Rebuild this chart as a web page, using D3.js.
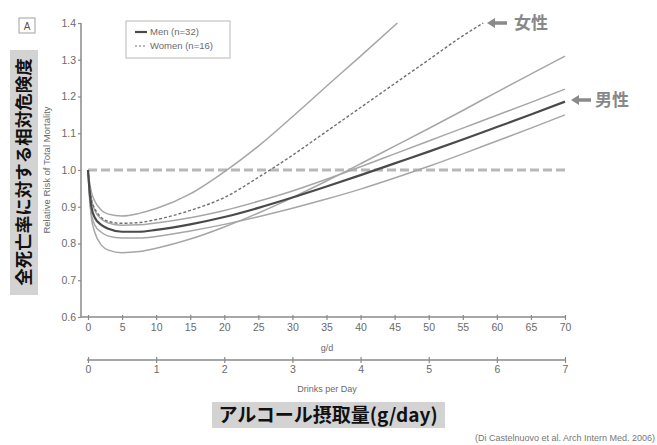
<!DOCTYPE html>
<html><head><meta charset="utf-8">
<script src="https://cdn.jsdelivr.net/npm/d3@7"></script>
<style>body{margin:0;background:#fff}svg{display:block}</style>
</head><body>
<script>
// ---- data ----
const gMen = [0,0.2,0.5,1,2,3,5,7.5,10,15,20,25,30,35,40,45,50,55,60,65,70];
const menPooled = [1.0,0.95,0.90,0.87,0.85,0.84,0.832,0.832,0.837,0.852,0.872,0.897,0.925,0.955,0.986,1.018,1.05,1.083,1.117,1.151,1.186];
const menUpper  = [1.0,0.96,0.92,0.89,0.866,0.856,0.85,0.851,0.856,0.87,0.89,0.915,0.943,0.975,1.009,1.044,1.079,1.114,1.149,1.184,1.22];
const menLower  = [1.0,0.94,0.88,0.85,0.83,0.82,0.815,0.815,0.819,0.834,0.852,0.873,0.896,0.921,0.948,0.978,1.01,1.044,1.079,1.114,1.15];
const womenLower= [1.0,0.93,0.87,0.83,0.795,0.782,0.775,0.778,0.787,0.812,0.845,0.883,0.925,0.97,1.017,1.065,1.113,1.162,1.212,1.261,1.31];
const gWomen = [0,0.2,0.5,1,2,3,5,7.5,10,15,20,25,30,35,40,45,50,55,58];
const womenPooled = [1.0,0.96,0.92,0.895,0.87,0.86,0.855,0.857,0.865,0.89,0.925,0.98,1.04,1.105,1.17,1.235,1.30,1.365,1.40];
const gWomenUp = [0,0.2,0.5,1,2,3,5,7.5,10,15,20,25,30,35,40,45.4];
const womenUpper = [1.0,0.97,0.94,0.915,0.89,0.88,0.875,0.882,0.895,0.935,0.995,1.065,1.145,1.228,1.31,1.40];
const yTicks = [0.6,0.7,0.8,0.9,1.0,1.1,1.2,1.3,1.4];
const gTicks = [0,5,10,15,20,25,30,35,40,45,50,55,60,65,70];
const drinkTicks = [0,1,2,3,4,5,6,7];
const legendLabels = ["Men (n=32)","Women (n=16)"];

const W=657,H=445;
const svg=d3.select("body").append("svg").attr("width",W).attr("height",H);
const x=d3.scaleLinear().domain([0,70]).range([88,565]);
const xd=d3.scaleLinear().domain([0,7]).range([88,565]);
const y=d3.scaleLinear().domain([0.6,1.4]).range([317,23]);
const axisCol="#8a8a8a", txtCol="#6a6a6a";
const font="Liberation Sans, Arial, sans-serif";

// y axis
const ya=svg.append("g").attr("transform","translate(81,0)")
  .call(d3.axisLeft(y).tickValues(yTicks).tickFormat(d3.format(".1f")).tickSize(3).tickSizeOuter(0));
ya.select(".domain").remove();
svg.append("line").attr("x1",81).attr("x2",81).attr("y1",y(1.4)).attr("y2",317).attr("stroke",axisCol).attr("stroke-width",1.5);
// x axis g/d
const xa=svg.append("g").attr("transform","translate(0,317)")
  .call(d3.axisBottom(x).tickValues(gTicks).tickFormat(d3.format("d")).tickSize(3).tickSizeOuter(0));
xa.select(".domain").remove();
svg.append("line").attr("x1",81).attr("x2",565).attr("y1",317).attr("y2",317).attr("stroke",axisCol).attr("stroke-width",1.5);
// drinks axis
const da=svg.append("g").attr("transform","translate(0,360)")
  .call(d3.axisBottom(xd).tickValues(drinkTicks).tickFormat(d3.format("d")).tickSize(3).tickSizeOuter(0));
da.select(".domain").remove();
svg.append("line").attr("x1",87).attr("x2",565).attr("y1",360).attr("y2",360).attr("stroke",axisCol).attr("stroke-width",1.5);
[ya,xa,da].forEach(a=>{
  a.selectAll(".tick line").attr("stroke",axisCol).attr("stroke-width",1.2);
  a.selectAll(".tick text").attr("fill",txtCol).attr("font-family",font).attr("font-size",10.5);
});
ya.selectAll(".tick text").attr("x",-5);
xa.selectAll(".tick text").attr("y",7);
da.selectAll(".tick text").attr("y",6);
da.selectAll(".tick line").attr("y1",-3);
xa.selectAll(".tick line").attr("y1",-2);

svg.append("text").attr("x",327).attr("y",351).attr("text-anchor","middle").attr("fill",txtCol)
  .attr("font-family",font).attr("font-size",9).text("g/d");
svg.append("text").attr("x",327).attr("y",392).attr("text-anchor","middle").attr("fill",txtCol)
  .attr("font-family",font).attr("font-size",9).text("Drinks per Day");
svg.append("text").attr("transform","translate(50,170) rotate(-90)").attr("text-anchor","middle").attr("fill",txtCol)
  .attr("font-family",font).attr("font-size",9.5).text("Relative Risk of Total Mortality");

// reference line
svg.append("line").attr("x1",x(0)).attr("x2",x(70)).attr("y1",y(1)).attr("y2",y(1))
  .attr("stroke","#b8b8b8").attr("stroke-width",3).attr("stroke-dasharray","9,4");

const line=(gs)=>d3.line().x((d,i)=>x(gs[i])).y(d=>y(d)).curve(d3.curveMonotoneX);
const grays=[[gMen,menUpper],[gMen,menLower],[gMen,womenLower],[gWomenUp,womenUpper]];
grays.forEach(([gs,v])=>svg.append("path").attr("d",line(gs)(v)).attr("fill","none")
  .attr("stroke","#a6a6a6").attr("stroke-width",1.5));
svg.append("path").attr("d",line(gWomen)(womenPooled)).attr("fill","none")
  .attr("stroke","#707070").attr("stroke-width",1.4).attr("stroke-dasharray","3,2");
svg.append("path").attr("d",line(gMen)(menPooled)).attr("fill","none")
  .attr("stroke","#4a4a4a").attr("stroke-width",2.2);

// legend
svg.append("rect").attr("x",126).attr("y",21).attr("width",104).attr("height",37)
  .attr("fill","#fff").attr("stroke","#c4c4c4").attr("stroke-width",1.2);
svg.append("line").attr("x1",135).attr("x2",147).attr("y1",32).attr("y2",32).attr("stroke","#4a4a4a").attr("stroke-width",2.2);
svg.append("line").attr("x1",135).attr("x2",147).attr("y1",46).attr("y2",46).attr("stroke","#707070").attr("stroke-width",1.2).attr("stroke-dasharray","2,2");
legendLabels.forEach((t,i)=>svg.append("text").attr("x",150).attr("y",35+i*14).attr("fill",txtCol)
  .attr("font-family",font).attr("font-size",9.5).text(t));

// panel letter
svg.append("rect").attr("x",19).attr("y",18).attr("width",16).attr("height",15).attr("fill","#fff").attr("stroke","#a0a0a0");
svg.append("text").attr("x",27).attr("y",29.5).attr("text-anchor","middle").attr("fill","#555")
  .attr("font-family",font).attr("font-size",10).text("A");

// Japanese labels
svg.append("rect").attr("x",10).attr("y",50).attr("width",28).attr("height",245).attr("fill","#d3d3d3");
svg.append("text").attr("transform","translate(30,172) rotate(-90)").attr("text-anchor","middle")
  .attr("fill","#111").attr("font-family","Noto Sans CJK JP").attr("font-weight","bold").attr("font-size",17.5)
  .text("全死亡率に対する相対危険度");
svg.append("rect").attr("x",212).attr("y",402).attr("width",233).attr("height",26).attr("fill","#d3d3d3");
svg.append("text").attr("x",328).attr("y",422).attr("text-anchor","middle")
  .attr("fill","#111").attr("font-family","Noto Sans CJK JP").attr("font-weight","bold").attr("font-size",19)
  .text("アルコール摂取量(g/day)");
svg.append("text").attr("x",655).attr("y",441).attr("text-anchor","end").attr("fill","#777")
  .attr("font-family",font).attr("font-size",9).text("(Di Castelnuovo et al. Arch Intern Med. 2006)");

// annotations
function arrow(x0,yc){
  svg.append("path").attr("d",`M${x0},${yc} L${x0+8},${yc-5} L${x0+8},${yc-1.8} L${x0+20},${yc-1.8} L${x0+20},${yc+1.8} L${x0+8},${yc+1.8} L${x0+8},${yc+5} Z`)
    .attr("fill","#8a8a8a");
}
arrow(487,23);
svg.append("text").attr("x",514).attr("y",29).attr("fill","#888").attr("font-family","Noto Sans CJK JP")
  .attr("font-weight","bold").attr("font-size",17).text("女性");
arrow(571,100);
svg.append("text").attr("x",595).attr("y",106).attr("fill","#888").attr("font-family","Noto Sans CJK JP")
  .attr("font-weight","bold").attr("font-size",17).text("男性");
</script>
</body></html>
